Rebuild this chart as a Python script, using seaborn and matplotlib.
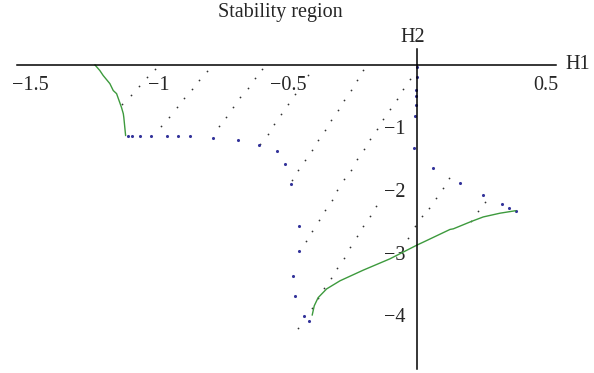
import numpy as np
import pandas as pd
import matplotlib
matplotlib.use("Agg")
import matplotlib.pyplot as plt
import seaborn as sns
from matplotlib.ticker import MultipleLocator, FixedLocator

TITLE = "Stability region"

# green boundary curves
curve1_h1 = [-1.248, -1.229, -1.216, -1.190, -1.177, -1.164, -1.145, -1.138, -1.136, -1.129]
curve1_h2 = [0.0, -0.09, -0.17, -0.30, -0.41, -0.46, -0.68, -0.78, -0.84, -1.13]

curve2_h1 = [-0.406, -0.398, -0.383, -0.350, -0.298, -0.208, -0.105, 0.0, 0.031,
             0.128, 0.141, 0.212, 0.257, 0.322, 0.383]
curve2_h2 = [-4.00, -3.85, -3.72, -3.58, -3.45, -3.28, -3.10, -2.88, -2.82,
             -2.63, -2.62, -2.50, -2.43, -2.37, -2.33]

# blue sample points
blue_h1 = [-1.119, -1.103, -1.074, -1.031, -0.970, -0.925, -0.879, -0.789, -0.694,
           -0.611, -0.544, -0.512, -0.487, -0.456, -0.459, -0.479, -0.474, -0.437,
           -0.419, -0.001, -0.001, -0.003, -0.004, -0.005, -0.008, -0.010, 0.063,
           0.167, 0.257, 0.328, 0.357, 0.383]
blue_h2 = [-1.14, -1.14, -1.13, -1.13, -1.13, -1.13, -1.14, -1.165, -1.20,
           -1.28, -1.37, -1.59, -1.90, -2.57, -2.97, -3.38, -3.70, -4.02,
           -4.09, -0.035, -0.195, -0.40, -0.50, -0.64, -0.81, -1.33, -1.65,
           -1.89, -2.08, -2.22, -2.28, -2.33]

# small black dots (rays)
ray_a_h1 = [-1.142, -1.110, -1.078, -1.047, -1.016]
ray_a_h2 = [-0.62, -0.48, -0.34, -0.20, -0.06]
ray_b_h1 = [-0.992, -0.961, -0.931, -0.902, -0.872, -0.844, -0.813]
ray_b_h2 = [-0.98, -0.83, -0.68, -0.53, -0.39, -0.24, -0.09]
ray_c_h1 = [-0.767, -0.739, -0.712, -0.685, -0.656, -0.629, -0.601]
ray_c_h2 = [-0.98, -0.84, -0.68, -0.52, -0.37, -0.21, -0.06]
ray_d_h1 = [-0.609, -0.579, -0.554, -0.527, -0.501, -0.473, -0.421]
ray_d_h2 = [-1.26, -1.10, -0.94, -0.79, -0.63, -0.46, -0.16]
ray_e_h1 = [-0.486, -0.460, -0.434, -0.408, -0.383, -0.358, -0.333, -0.307,
            -0.282, -0.257, -0.231, -0.208]
ray_e_h2 = [-1.84, -1.68, -1.52, -1.36, -1.20, -1.04, -0.88, -0.72,
            -0.56, -0.40, -0.24, -0.08]
ray_f_h1 = [-0.431, -0.407, -0.381, -0.357, -0.331, -0.309, -0.282, -0.257,
            -0.231, -0.207, -0.181, -0.156, -0.131, -0.105, -0.079, -0.054, -0.028]
ray_f_h2 = [-2.81, -2.65, -2.48, -2.32, -2.16, -2.00, -1.83, -1.68,
            -1.51, -1.35, -1.19, -1.03, -0.87, -0.71, -0.55, -0.38, -0.22]
ray_g_h1 = [-0.460, -0.408, -0.385, -0.360, -0.335, -0.309, -0.284, -0.260,
            -0.234, -0.208, -0.183, -0.159]
ray_g_h2 = [-4.20, -3.88, -3.72, -3.56, -3.40, -3.24, -3.08, -2.91,
            -2.74, -2.58, -2.42, -2.26]
ray_h_h1 = [-0.034, -0.008, 0.018, 0.047, 0.072, 0.100, 0.125]
ray_h_h2 = [-2.76, -2.58, -2.42, -2.28, -2.12, -1.96, -1.80]
ray_i_h1 = [0.209, 0.238, 0.264]
ray_i_h2 = [-2.50, -2.34, -2.19]

x_major = [-1.5, -1.0, -0.5, 0.5]
x_labels = ["\u22121.5", "\u22121", "\u22120.5", "0.5"]
y_major = [-4, -3, -2, -1]
y_labels = ["\u22124", "\u22123", "\u22122", "\u22121"]

sns.set_style("white")
plt.rcParams["font.family"] = ["Liberation Serif", "DejaVu Serif"]

rays = pd.DataFrame({
    "H1": ray_a_h1 + ray_b_h1 + ray_c_h1 + ray_d_h1 + ray_e_h1 + ray_f_h1 + ray_g_h1 + ray_h_h1 + ray_i_h1,
    "H2": ray_a_h2 + ray_b_h2 + ray_c_h2 + ray_d_h2 + ray_e_h2 + ray_f_h2 + ray_g_h2 + ray_h_h2 + ray_i_h2,
})
blue = pd.DataFrame({"H1": blue_h1, "H2": blue_h2})
c1 = pd.DataFrame({"H1": curve1_h1, "H2": curve1_h2})
c2 = pd.DataFrame({"H1": curve2_h1, "H2": curve2_h2})

fig = plt.figure(figsize=(5.94, 3.73), dpi=100)
ax = fig.add_axes([0.0286, 0.0107, 0.9079, 0.859])

green = "#3d9a3d"
sns.lineplot(data=c1, x="H1", y="H2", sort=False, estimator=None, color=green, lw=1.0, ax=ax)
sns.lineplot(data=c2, x="H1", y="H2", sort=False, estimator=None, color=green, lw=1.0, ax=ax)
sns.scatterplot(data=rays, x="H1", y="H2", s=1.6, color="#333333", linewidth=0, ax=ax)
sns.scatterplot(data=blue, x="H1", y="H2", s=5, color="#33339a", linewidth=0, ax=ax)

ax.set_xlim(-1.55, 0.54)
ax.set_ylim(-4.86, 0.26)
ax.set_xlabel("")
ax.set_ylabel("")

for s in ["top", "right"]:
    ax.spines[s].set_visible(False)
ax.spines["left"].set_position(("data", 0))
ax.spines["bottom"].set_position(("data", 0))
for s in ["left", "bottom"]:
    ax.spines[s].set_linewidth(1.1)
    ax.spines[s].set_color("black")

ax.xaxis.set_major_locator(FixedLocator(x_major))
ax.set_xticklabels(x_labels)
ax.xaxis.set_minor_locator(MultipleLocator(0.1))
ax.yaxis.set_major_locator(FixedLocator(y_major))
ax.set_yticklabels(y_labels)
ax.yaxis.set_minor_locator(MultipleLocator(0.2))
ax.tick_params(which="both", direction="in", color="black", width=0.8)
ax.tick_params(which="major", length=5, labelsize=14.5, pad=8)
ax.tick_params(which="minor", length=3)
ax.tick_params(axis="y", which="major", pad=8)

ax.text(0.574, 0, "H1", fontsize=14.5, ha="left", va="center", clip_on=False)
ax.text(-0.015, 0.44, "H2", fontsize=14.5, ha="center", va="center", clip_on=False)
fig.text(280.5 / 594, 1 - 12 / 373, TITLE, fontsize=14.5, ha="center", va="center")

fig.savefig("out.png", dpi=100)
